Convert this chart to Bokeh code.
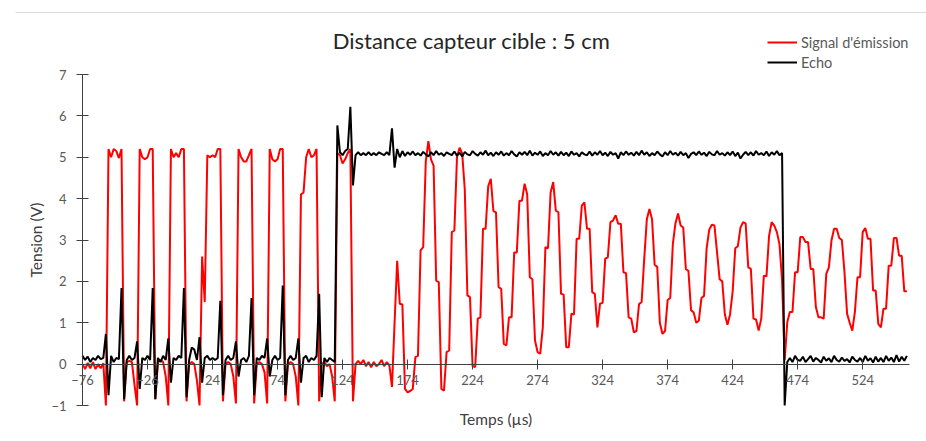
from bokeh.plotting import figure
from bokeh.models import (Range1d, LinearAxis, FixedTicker, Legend, LegendItem,
                          Label, BoxAnnotation)
from bokeh.embed import file_html
from bokeh.resources import INLINE

TITLE = "Distance capteur cible : 5 cm"
X_LABEL = "Temps (µs)"
Y_LABEL = "Tension (V)"
SERIES_NAMES = ["Signal d'émission", "Echo"]
X_TICKS = [-76, -26, 24, 74, 124, 174, 224, 274, 324, 374, 424, 474, 524]
Y_TICKS = [-1, 0, 1, 2, 3, 4, 5, 6, 7]
X_BOUNDS = (-76, 560)
Y_BOUNDS = (-1, 7)

# sampling of the recording
T_START = -76   # µs
T_STEP = 2      # µs

emission = [
    0.0, -0.12, 0.03, -0.1, 0.05, -0.12, 0.0, -0.1, 0.02, -1.0,
    5.2, 5.0, 5.2, 5.15, 4.98, 5.2, -0.9, 0.05, 0.08, 0.05,
    -0.5, -1.0, 5.2, 5.0, 4.95, 5.0, 5.2, 5.2, -0.85, 0.05,
    0.1, 0.05, -0.3, -1.0, 5.2, 5.0, 5.1, 5.0, 5.2, 5.2,
    -0.9, 0.0, 0.05, 0.0, -0.4, -1.0, 2.6, 1.5, 5.05, 5.0,
    5.05, 5.0, 5.2, 5.2, -0.9, 0.0, 0.05, 0.0, -0.3, -0.95,
    5.2, 5.0, 4.9, 4.9, 5.05, 5.2, -0.95, 0.0, 0.05, 0.0,
    -0.2, -0.95, 5.2, 4.95, 4.9, 4.95, 5.2, 5.2, -0.9, 0.0,
    0.05, 0.0, -0.3, -1.0, 4.1, 4.15, 5.0, 5.2, 5.0, 5.05,
    5.2, -0.9, 0.0, 0.05, -0.05, 0.0, -0.3, -0.9, 5.1, 5.05,
    4.85, 4.95, 5.1, 5.2, -0.9, 0.0, 0.08, 0.0, 0.1, -0.05,
    0.05, -0.08, 0.05, -0.05, 0.0, 0.1, -0.05, 0.05, -0.03, -0.55,
    1.0, 2.5, 1.46, 1.44, -0.6, -0.68, -0.65, -0.6, 0.17, 0.2,
    2.75, 2.83, 4.9, 5.39, 4.95, 4.8, 2.02, 1.98, -0.6, -0.64,
    0.29, 0.33, 3.19, 3.23, 5.0, 5.23, 5.09, 4.22, 1.66, 1.62,
    -0.05, -0.07, 1.1, 1.13, 3.27, 3.27, 4.3, 4.48, 3.7, 3.67,
    1.86, 1.82, 0.49, 0.45, 1.13, 1.13, 2.7, 2.7, 3.95, 3.95,
    4.36, 4.1, 2.1, 2.05, 0.57, 0.29, 0.25, 0.89, 2.83, 2.8,
    4.15, 4.4, 3.71, 3.67, 1.7, 1.68, 0.41, 0.41, 1.22, 1.2,
    3.03, 3.03, 3.83, 3.91, 3.27, 3.27, 1.74, 1.7, 0.89, 1.46,
    1.48, 2.55, 2.58, 3.43, 3.47, 3.6, 3.39, 3.39, 2.22, 2.2,
    1.13, 1.1, 0.77, 0.8, 1.45, 1.5, 2.55, 3.5, 3.75, 3.5,
    2.4, 2.35, 1.0, 0.73, 0.8, 1.55, 1.6, 2.9, 3.4, 3.64,
    3.35, 3.3, 2.3, 2.25, 1.3, 1.25, 1.0, 1.05, 1.6, 1.65,
    2.8, 3.25, 3.37, 3.35, 2.7, 2.05, 2.0, 1.2, 0.95, 1.2,
    1.75, 2.8, 2.85, 3.3, 3.43, 3.4, 2.34, 2.3, 1.1, 1.08,
    0.81, 1.1, 2.14, 2.12, 3.1, 3.43, 3.35, 3.19, 2.9, 2.02,
    0.1, 1.01, 1.26, 1.26, 2.22, 2.22, 3.07, 3.07, 2.95, 2.95,
    2.3, 2.3, 1.38, 1.13, 1.13, 1.1, 2.18, 2.34, 2.99, 3.27,
    3.27, 3.05, 3.0, 2.22, 1.22, 1.0, 0.81, 1.26, 2.1, 2.1,
    3.19, 3.29, 3.03, 3.03, 1.78, 1.78, 0.97, 0.89, 1.34, 1.34,
    2.38, 2.38, 3.05, 3.05, 2.62, 2.62, 1.76, 1.76,
]

echo = [
    0.2, 0.1, 0.18, 0.05, 0.15, 0.1, 0.2, 0.12, 0.15, 0.73,
    -0.75, 0.2, 0.05, 0.15, 0.12, 1.84, -0.85, 0.1, 0.2, 0.1,
    0.15, 0.55, -0.6, 0.15, 0.1, 0.2, 0.1, 1.84, -0.85, 0.15,
    0.05, 0.2, 0.1, 0.62, -0.45, 0.15, 0.1, 0.2, 0.15, 1.84,
    -0.8, 0.1, 0.4, 0.35, 0.1, 0.65, -0.45, 0.15, 0.2, 0.1,
    0.15, 0.1, 0.15, 1.53, -0.75, 0.1, 0.2, 0.1, 0.15, 0.55,
    -0.3, 0.1, 0.15, 0.05, 0.2, 1.6, -0.75, 0.15, 0.1, 0.2,
    0.15, 0.62, -0.3, 0.1, 0.2, 0.1, 0.15, 1.9, -0.75, 0.1,
    0.2, 0.1, 0.15, 0.62, -0.45, 0.15, 0.2, 0.05, 0.15, 0.1,
    0.2, 1.7, -0.8, 0.15, 0.05, 0.15, 0.1, 0.05, 5.77, 5.12,
    5.05, 5.15, 5.2, 6.22, 4.32, 5.05, 5.12, 5.05, 5.1, 5.05,
    5.12, 5.05, 5.1, 5.05, 5.12, 5.08, 5.05, 5.12, 5.05, 5.7,
    4.75, 5.2, 5.0, 5.15, 5.03, 5.12, 5.06, 5.14, 5.05, 5.10,
    5.04, 5.13, 5.07, 5.02, 5.12, 5.05, 5.15, 5.06, 5.10, 5.03,
    5.12, 5.08, 5.05, 5.14, 5.04, 5.11, 5.02, 5.13, 5.07, 5.05,
    5.15, 5.08, 5.04, 5.12, 5.06, 5.16, 5.05, 5.11, 5.03, 5.12,
    5.06, 5.14, 5.04, 5.10, 5.05, 5.15, 5.07, 5.02, 5.12, 5.06,
    5.13, 5.05, 5.16, 5.04, 5.11, 5.06, 5.14, 5.03, 5.10, 5.05,
    5.15, 5.06, 5.12, 5.04, 5.13, 5.05, 5.11, 5.03, 5.14, 5.06,
    5.10, 5.02, 5.12, 5.07, 5.05, 5.14, 5.04, 5.12, 5.06, 5.15,
    5.05, 5.11, 5.03, 5.13, 5.06, 5.10, 4.97, 5.12, 5.05, 5.14,
    5.06, 5.11, 5.04, 5.13, 5.05, 5.16, 5.06, 5.12, 5.03, 5.10,
    5.05, 5.14, 5.07, 5.02, 5.12, 5.05, 5.15, 5.06, 5.11, 5.04,
    5.13, 5.05, 5.10, 4.98, 5.08, 5.12, 5.05, 5.14, 5.06, 5.11,
    5.03, 5.13, 5.07, 5.05, 5.15, 5.06, 5.10, 5.04, 5.12, 5.05,
    5.14, 5.03, 5.11, 4.97, 5.06, 5.13, 5.05, 5.12, 5.04, 5.15,
    5.06, 5.10, 5.05, 5.14, 5.03, 5.12, 5.06, 5.15, 5.05, 5.1,
    -1.0, 0.05, 0.15, 0.05, 0.2, 0.1, 0.08, 0.18, 0.05, 0.12,
    0.2, 0.06, 0.15, 0.1, 0.04, 0.18, 0.08, 0.14, 0.05, 0.2,
    0.1, 0.06, 0.16, 0.08, 0.12, 0.04, 0.18, 0.1, 0.06, 0.15,
    0.05, 0.2, 0.08, 0.14, 0.04, 0.18, 0.06, 0.15, 0.05, 0.2,
    0.08, 0.16, 0.05, 0.22, 0.06, 0.18, 0.08, 0.2,
]

t_emission = [T_START + T_STEP * k for k in range(len(emission))]
t_echo = [T_START + T_STEP * k for k in range(len(echo))]

FONT = "Lato"
TEXT_COLOR = "#595959"
AXIS_COLOR = "#404040"

W, H = 926, 441
# plot area spans pixels 82..909 horizontally (-76..560 µs) and 74..405 vertically (7..-1 V)
PX_PER_US = (909 - 82) / (X_BOUNDS[1] - X_BOUNDS[0])
PX_PER_V = (405 - 74) / (Y_BOUNDS[1] - Y_BOUNDS[0])
x_range = Range1d(X_BOUNDS[0] - 82 / PX_PER_US, X_BOUNDS[1] + (W - 909) / PX_PER_US)
y_range = Range1d(Y_BOUNDS[0] - (H - 405) / PX_PER_V, Y_BOUNDS[1] + 74 / PX_PER_V)

p = figure(width=W, height=H, x_range=x_range, y_range=y_range,
           output_backend="svg", toolbar_location=None,
           x_axis_location=None, y_axis_location=None,
           min_border_left=0, min_border_right=0, min_border_top=0, min_border_bottom=0)
p.outline_line_color = None
p.grid.visible = False
p.background_fill_color = "white"

# y axis at the left edge of the data
y_axis = LinearAxis(fixed_location=X_BOUNDS[0], bounds=Y_BOUNDS, ticker=FixedTicker(ticks=Y_TICKS))
y_axis.axis_line_color = AXIS_COLOR
y_axis.major_tick_line_color = AXIS_COLOR
y_axis.major_tick_in = 6
y_axis.major_tick_out = 6
y_axis.minor_tick_line_color = None
y_axis.major_label_text_font = FONT
y_axis.major_label_text_font_size = "13px"
y_axis.major_label_text_color = TEXT_COLOR
y_axis.major_label_standoff = 10
y_axis.axis_label = Y_LABEL
y_axis.axis_label_text_font = FONT
y_axis.axis_label_text_font_style = "normal"
y_axis.axis_label_text_font_size = "15.5px"
y_axis.axis_label_text_color = AXIS_COLOR
y_axis.axis_label_standoff = 3
p.add_layout(y_axis, "left")

# x axis crossing at y = 0
zero_axis = LinearAxis(fixed_location=0, bounds=X_BOUNDS, ticker=FixedTicker(ticks=X_TICKS))
zero_axis.axis_line_color = AXIS_COLOR
zero_axis.major_tick_line_color = AXIS_COLOR
zero_axis.major_tick_in = 5
zero_axis.major_tick_out = 5
zero_axis.minor_tick_line_color = None
zero_axis.major_label_text_font = FONT
zero_axis.major_label_text_font_size = "13px"
zero_axis.major_label_text_color = TEXT_COLOR
zero_axis.major_label_standoff = 6
p.add_layout(zero_axis, "below")

# axis title under the plot area
title_axis = LinearAxis(fixed_location=Y_BOUNDS[0], bounds=X_BOUNDS, ticker=FixedTicker(ticks=[]))
title_axis.axis_line_color = None
title_axis.major_tick_line_color = None
title_axis.minor_tick_line_color = None
title_axis.major_tick_in = 0
title_axis.major_tick_out = 0
title_axis.axis_label = X_LABEL
title_axis.axis_label_text_font = FONT
title_axis.axis_label_text_font_style = "normal"
title_axis.axis_label_text_font_size = "15.5px"
title_axis.axis_label_text_color = AXIS_COLOR
title_axis.axis_label_standoff = 4
p.add_layout(title_axis, "below")

r_em = p.line(t_emission, emission, line_color="#ff0000", line_width=2)
r_echo = p.line(t_echo, echo, line_color="#000000", line_width=2)

legend = Legend(items=[LegendItem(label=SERIES_NAMES[0], renderers=[r_em]),
                       LegendItem(label=SERIES_NAMES[1], renderers=[r_echo])],
                location=(767, H - 72), orientation="vertical",
                border_line_color=None, background_fill_alpha=0,
                padding=0, margin=0, spacing=0,
                glyph_width=30, glyph_height=20, label_height=20,
                label_standoff=4,
                label_text_font=FONT, label_text_font_size="14.5px",
                label_text_color=TEXT_COLOR)
p.add_layout(legend, "center")

title = Label(x=471, y=H - 40, x_units="screen", y_units="screen", text=TITLE,
              text_align="center", text_baseline="middle",
              text_font=FONT, text_font_size="22px", text_color="#262626")
p.add_layout(title)

# thin grey rule along the top of the chart
rule_top = Y_BOUNDS[1] + (74 - 12) / PX_PER_V
top_rule = BoxAnnotation(left=X_BOUNDS[0] - (82 - 15) / PX_PER_US, right=x_range.end,
                         top=rule_top + 0.6 / PX_PER_V, bottom=rule_top - 0.6 / PX_PER_V,
                         fill_color="#d9d9d9", fill_alpha=1, line_color=None)
p.add_layout(top_rule)

open("out.html", "w").write(file_html(p, INLINE))
